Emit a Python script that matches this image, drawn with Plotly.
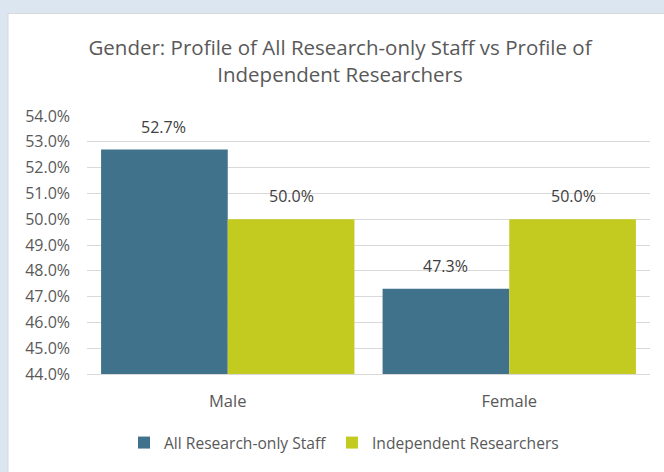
import plotly.graph_objects as go

categories = ["Male", "Female"]
series_names = ["All Research-only Staff", "Independent Researchers"]
all_staff = [0.527, 0.473]
independent = [0.500, 0.500]
colors = ["#41728B", "#C3CB20"]

W, H = 664, 472
L, R, T, B = 87, 14, 116, 94
pw, ph = W - L - R, H - T - B
FONT = "Open Sans"
TXT = "#595959"

fig = go.Figure()
for name, vals, col in zip(series_names, [all_staff, independent], colors):
    fig.add_trace(go.Bar(x=categories, y=vals, name=name, marker_color=col,
                         marker_line_width=0))

# data labels
shifts = [-64, 64]
for vals, xs in zip([all_staff, independent], shifts):
    for c, v in zip(categories, vals):
        fig.add_annotation(x=c, y=v, xref="x", yref="y", text=f"{v*100:.1f}%",
                           showarrow=False, xshift=xs, yshift=10, yanchor="bottom",
                           font=dict(family=FONT, size=16, color="#404040"))

# white chart area on light-blue surround
fig.add_shape(type="rect", xref="paper", yref="paper",
              x0=(8 - L) / pw, x1=(W + 10 - L) / pw,
              y0=(H - B - (H + 10)) / ph, y1=(H - B - 12) / ph,
              fillcolor="white", line=dict(color="#D9D9D9", width=1), layer="below")

fig.update_layout(
    width=W, height=H,
    margin=dict(l=L, r=R, t=T, b=B),
    paper_bgcolor="#DCE6F1", plot_bgcolor="rgba(0,0,0,0)",
    barmode="group", bargap=0.1, bargroupgap=0,
    font=dict(family=FONT, color=TXT),
    title=dict(text="Gender: Profile of All Research-only Staff vs Profile of<br>Independent Researchers",
               x=340 / W, xanchor="center", xref="container",
               y=1 - 55 / H, yanchor="top", yref="container",
               font=dict(family=FONT, size=20.5, color=TXT)),
    legend=dict(orientation="h", x=(344 - L) / pw, xanchor="center",
                y=(H - B - 448) / ph, yanchor="middle",
                font=dict(family=FONT, size=15.6, color=TXT),
                bgcolor="rgba(0,0,0,0)", itemwidth=30, tracegroupgap=0),
    showlegend=True,
)
fig.update_yaxes(range=[0.44, 0.54], dtick=0.01, tickformat=".1%",
                 showgrid=True, gridcolor="#D9D9D9", gridwidth=1,
                 zeroline=False, showline=False, ticks="", ticklabelstandoff=16,
                 tickfont=dict(family=FONT, size=16, color=TXT))
fig.update_xaxes(showline=True, linecolor="#D9D9D9", linewidth=1, ticks="",
                 ticklabelstandoff=12,
                 tickfont=dict(family=FONT, size=16.5, color=TXT))

fig.write_html("out.html", config={"displayModeBar": False},
               post_script="document.body.style.margin='0';document.body.style.padding='0';")
